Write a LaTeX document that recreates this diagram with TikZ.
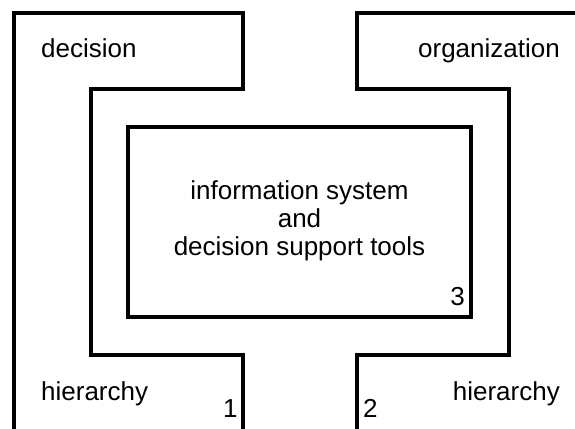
\documentclass[tikz,border=0pt]{standalone}
\usepackage{fontspec}
\setmainfont{Liberation Sans}
\begin{document}
\begin{tikzpicture}[x=1pt,y=-1pt,
  wall/.style={line width=3.4pt,line join=miter,draw=black},
  lbl/.style={inner sep=0pt,font=\fontsize{26}{28}\selectfont},
  num/.style={inner sep=0pt,font=\fontsize{26}{28}\selectfont}]
\useasboundingbox (0,0) rectangle (575,428);
\begin{scope}
\clip (0,0) rectangle (575,428);
% left shape (1)
\draw[wall] (14,440) -- (14,13) -- (243,13) -- (243,89) -- (91,89) -- (91,355) -- (243,355) -- (243,440);
% right shape (2)
\draw[wall] (357,440) -- (357,355) -- (509,355) -- (509,89) -- (357,89) -- (357,13) -- (590,13);
% centre box (3)
\draw[wall] (128,127) rectangle (471,317);
\end{scope}
\node[lbl,anchor=base west] (decision) at (41,58) {decision};
\node[lbl,anchor=base east] (organization) at (560,58) {organization};
\node[lbl,anchor=base west] (hierL) at (41,400) {hierarchy};
\node[lbl,anchor=base east] (hierR) at (560,400) {hierarchy};
\node[num,anchor=base west] (n1) at (223,417) {1};
\node[num,anchor=base west] (n2) at (363,417) {2};
\node[num,anchor=base east] (n3) at (465,305) {3};
\node[lbl,align=center,anchor=center] (centre) at (299.5,221) {information system\\and\\decision support tools};
\end{tikzpicture}
\end{document}
